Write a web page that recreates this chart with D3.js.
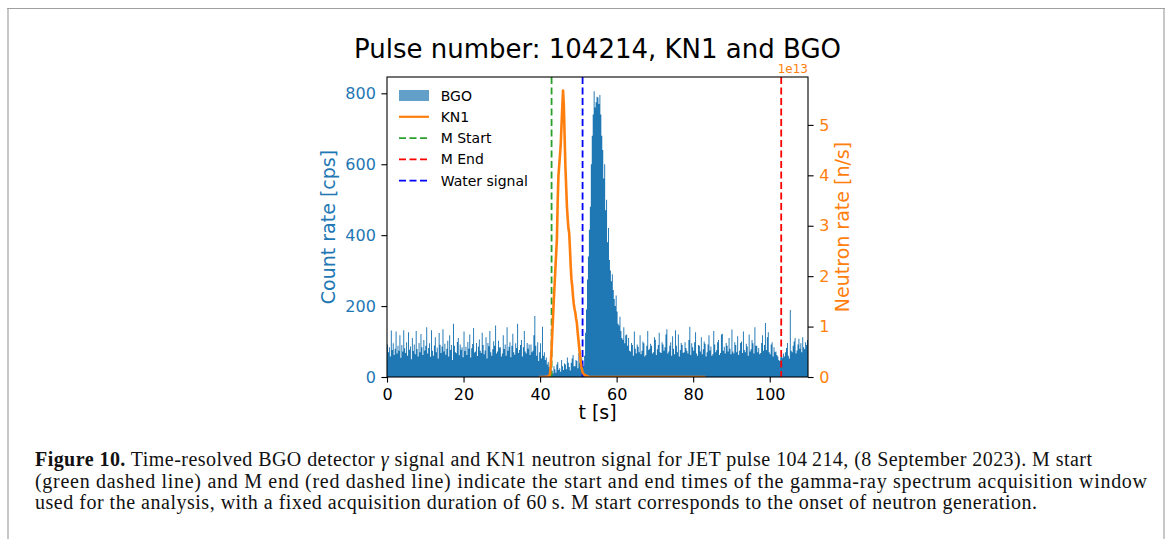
<!DOCTYPE html>
<html>
<head>
<meta charset="utf-8">
<script src="https://cdn.jsdelivr.net/npm/d3@7"></script>
<style>
body { margin: 0; background: #fff; }
svg { display: block; }
</style>
</head>
<body>
<script>
// BGO counts, 0.25 s bins from t = 0 s
let bgoBinWidth = 0.25;
let bgoCounts = [
  // 0 - 40 s
  92, 70, 84, 58, 131, 76, 95, 62, 80, 128, 66, 88, 74, 118, 54, 90, 72, 132, 81, 68,
  98, 60, 126, 77, 86, 50, 110, 73, 92, 64, 130, 79, 58, 96, 70, 121, 84, 62, 104, 75,
  88, 140, 66, 82, 95, 57, 132, 74, 60, 89, 112, 70, 83, 52, 124, 91, 68, 86, 135, 72,
  94, 63, 80, 102, 58, 118, 76, 90, 48, 150, 88, 70, 67, 99, 110, 61, 92, 77, 84, 56,
  128, 73, 85, 62, 99, 80, 120, 55, 81, 93, 138, 69, 72, 96, 59, 86, 106, 74, 68, 125,
  90, 64, 75, 112, 52, 96, 87, 130, 70, 60, 78, 101, 88, 145, 66, 72, 102, 83, 84, 58,
  66, 118, 79, 92, 60, 140, 74, 85, 98, 56, 88, 122, 70, 63, 95, 82, 150, 68, 76, 90,
  104, 58, 84, 130, 72, 66, 96, 80, 92, 62, 92, 70, 74, 118, 172, 88, 60, 98, 45, 70,
  // 40 - 43 s
  95, 52, 142, 60, 70, 48, 55, 35, 42, 28, 22, 30,
  // 43 - 51 s
  18, 10, 30, 22, 12, 35, 42, 20, 25, 15, 48, 30, 20, 38, 35, 22,
  55, 40, 28, 18, 40, 52, 62, 30, 30, 48, 45, 25, 68, 40, 38, 55,
  // 51 - 63 s
  40, 30, 60, 125, 190, 275, 340, 415, 480, 600, 680, 740, 806, 760, 775, 790,
  788, 770, 795, 740, 680, 640, 560, 600, 470, 500, 380, 420, 330, 300, 270, 290,
  245, 220, 200, 230, 185, 150, 145, 170, 130, 110, 105, 140, 95, 118, 120, 88,
  // 63 - 110 s
  110, 74, 72, 96, 90, 60, 128, 80, 66, 92, 85, 70, 118, 64, 74, 100, 95, 58, 62, 88,
  130, 76, 80, 94, 88, 66, 70, 112, 105, 62, 78, 90, 125, 70, 68, 98, 92, 74, 84, 120,
  135, 66, 72, 88, 98, 60, 115, 80, 64, 132, 88, 70, 120, 58, 76, 96, 90, 68, 70, 98,
  82, 74, 66, 104, 142, 62, 95, 84, 74, 98, 126, 66, 60, 90, 88, 72, 112, 64, 78, 100,
  94, 58, 70, 92, 118, 75, 86, 60, 64, 130, 92, 70, 76, 98, 104, 62, 68, 120, 122, 74,
  85, 66, 96, 88, 72, 110, 80, 64, 134, 72, 66, 98, 90, 70, 115, 62, 74, 96, 100, 68,
  128, 76, 70, 94, 86, 60, 120, 72, 78, 104, 95, 66, 140, 88, 88, 70, 82, 64, 68, 96,
  118, 74, 90, 152, 76, 112, 126, 70, 64, 92, 98, 58, 84, 70, 72, 62, 58, 48, 45, 56,
  62, 54, 66, 58, 70, 82, 96, 60, 52, 189, 74, 70, 88, 100, 110, 66, 75, 92, 108, 80,
  95, 70, 112, 84, 78, 98, 90, 104
];

// KN1 neutron rate, units of 1e13 n/s
let kn1Time = [39.7, 41.0, 42.0, 42.4, 42.6, 42.8, 43.0, 43.2, 43.4, 43.6, 43.8, 44.0, 44.2, 44.4, 44.6, 44.8,
  45.0, 45.2, 45.4, 45.6, 45.8, 46.0, 46.2, 46.4, 46.6, 46.8, 47.0, 47.2, 47.4, 47.6, 47.8,
  48.0, 48.2, 48.4, 48.6, 48.8, 49.0, 49.2, 49.4, 49.6, 49.8, 50.0, 50.2, 50.4, 50.6, 50.8,
  51.0, 51.2, 51.6, 52.2, 52.8, 60.0, 70.0, 83.2];
let kn1Rate = [0, 0, 0.01, 0.02, 0.07, 0.25, 0.55, 0.9, 1.22, 1.55, 1.85, 2.15, 2.45, 2.75, 3.5, 4.0,
  4.2, 4.4, 4.62, 5.0, 5.35, 5.68, 5.4, 4.8, 4.2, 3.8, 3.4, 3.15, 2.95, 2.86, 2.55,
  2.2, 1.93, 1.8, 1.6, 1.45, 1.35, 1.28, 1.16, 1.08, 0.9, 0.75, 0.6, 0.45, 0.3, 0.2,
  0.12, 0.08, 0.04, 0.02, 0, 0, 0, 0];

let markerNames = ["M Start", "M End", "Water signal"];
let markerTimes = [43.0, 103.0, 51.1];
let markerColors = ["#2ca02c", "#ff0000", "#0000ff"];

let xTicks = [0, 20, 40, 60, 80, 100];
let yLeftTicks = [0, 200, 400, 600, 800];
let yRightTicks = [0, 1, 2, 3, 4, 5];

let captionLines = [
  [["Figure 10.", "bold", ""], [" Time-resolved BGO detector ", "", ""], ["γ", "", "italic"], [" signal and KN1 neutron signal for JET pulse 104\u2009214, (8 September 2023). M start", "", ""]],
  [["(green dashed line) and M end (red dashed line) indicate the start and end times of the gamma-ray spectrum acquisition window", "", ""]],
  [["used for the analysis, with a fixed acquisition duration of 60\u2009s. M start corresponds to the onset of neutron generation.", "", ""]]
];
let captionWidths = [1057, 1112, 1002];

let W = 1168, H = 539;
let pL = 387, pR = 808, pT = 77, pB = 377;
let blue = "#1f77b4", orange = "#ff7f0e";
let sans = "DejaVu Sans, sans-serif";

let svg = d3.select("body").append("svg").attr("width", W).attr("height", H);

// page frame
svg.append("line").attr("x1", 7).attr("x2", 1165).attr("y1", 8.5).attr("y2", 8.5).attr("stroke", "#a0a0a0");
svg.append("line").attr("x1", 8).attr("x2", 8).attr("y1", 9).attr("y2", H).attr("stroke", "#c8c8c8").attr("stroke-width", 2);
svg.append("line").attr("x1", 1164).attr("x2", 1164).attr("y1", 9).attr("y2", H).attr("stroke", "#c8c8c8").attr("stroke-width", 2);

let x = d3.scaleLinear().domain([0, 110]).range([pL, pR]);
let yL = d3.scaleLinear().domain([0, 846]).range([pB, pT]);
let yR = d3.scaleLinear().domain([0, 5.95]).range([pB, pT]);

svg.append("clipPath").attr("id", "plot").append("rect")
  .attr("x", pL).attr("y", pT).attr("width", pR - pL).attr("height", pB - pT);

let g = svg.append("g").attr("clip-path", "url(#plot)");

let bgoPts = bgoCounts.map((v, i) => [i * bgoBinWidth, v]);
bgoPts.push([bgoCounts.length * bgoBinWidth, bgoCounts[bgoCounts.length - 1]]);

g.append("path")
  .datum(bgoPts)
  .attr("fill", blue)
  .attr("d", d3.area().curve(d3.curveStepAfter).x(d => x(d[0])).y0(yL(0)).y1(d => yL(d[1])));

markerTimes.forEach((t, i) => {
  g.append("line")
    .attr("x1", x(t)).attr("x2", x(t)).attr("y1", pT).attr("y2", pB)
    .attr("stroke", markerColors[i]).attr("stroke-width", 1.8).attr("stroke-dasharray", "7 3.5");
});

g.append("path")
  .datum(kn1Time.map((t, i) => [t, kn1Rate[i]]))
  .attr("fill", "none").attr("stroke", orange).attr("stroke-width", 2.6).attr("stroke-linejoin", "round")
  .attr("d", d3.line().x(d => x(d[0])).y(d => yR(d[1])));

// spines
svg.append("rect").attr("x", pL).attr("y", pT).attr("width", pR - pL).attr("height", pB - pT)
  .attr("fill", "none").attr("stroke", "#000").attr("stroke-width", 1.1);

function styleAxis(sel, color) {
  sel.select(".domain").remove();
  sel.selectAll(".tick line").attr("stroke", "#000").attr("stroke-width", 1.1);
  sel.selectAll(".tick text").attr("fill", color).style("font-family", sans).style("font-size", "16px");
}

svg.append("g").attr("transform", "translate(0," + pB + ")")
  .call(d3.axisBottom(x).tickValues(xTicks).tickSize(5.6).tickPadding(5.6))
  .call(s => styleAxis(s, "#000"));

svg.append("g").attr("transform", "translate(" + pL + ",0)")
  .call(d3.axisLeft(yL).tickValues(yLeftTicks).tickSize(5.6).tickPadding(5.6))
  .call(s => styleAxis(s, blue));

svg.append("g").attr("transform", "translate(" + pR + ",0)")
  .call(d3.axisRight(yR).tickValues(yRightTicks).tickFormat(d3.format("d")).tickSize(5.6).tickPadding(5.6))
  .call(s => styleAxis(s, orange));

// titles and labels
svg.append("text").attr("x", (pL + pR) / 2).attr("y", 57.5).attr("text-anchor", "middle")
  .style("font-family", sans).style("font-size", "26px").text("Pulse number: 104214, KN1 and BGO");

svg.append("text").attr("x", (pL + pR) / 2).attr("y", 419).attr("text-anchor", "middle")
  .style("font-family", sans).style("font-size", "19px").text("t [s]");

svg.append("text").attr("transform", "translate(335," + (pT + pB) / 2 + ") rotate(-90)")
  .attr("text-anchor", "middle").attr("fill", blue)
  .style("font-family", sans).style("font-size", "19px").text("Count rate [cps]");

svg.append("text").attr("transform", "translate(849," + (pT + pB) / 2 + ") rotate(-90)")
  .attr("text-anchor", "middle").attr("fill", orange)
  .style("font-family", sans).style("font-size", "19px").text("Neutron rate [n/s]");

svg.append("text").attr("x", pR).attr("y", 73.3).attr("text-anchor", "end").attr("fill", orange)
  .style("font-family", sans).style("font-size", "12px").text("1e13");

// legend
let legendNames = ["BGO", "KN1"].concat(markerNames);
let legendColors = [blue, orange].concat(markerColors);
let lg = svg.append("g");
legendNames.forEach((name, i) => {
  let cy = 95.5 + i * 21.3;
  if (i === 0) {
    lg.append("rect").attr("x", 399).attr("y", cy - 5.5).attr("width", 30).attr("height", 11)
      .attr("fill", blue).attr("fill-opacity", 0.7);
  } else {
    lg.append("line").attr("x1", 399).attr("x2", 429).attr("y1", cy).attr("y2", cy)
      .attr("stroke", legendColors[i]).attr("stroke-width", i === 1 ? 2.2 : 1.8)
      .attr("stroke-dasharray", i === 1 ? null : "7 3.5");
  }
  lg.append("text").attr("x", 440.7).attr("y", cy).attr("dy", "0.36em")
    .style("font-family", sans).style("font-size", "14px").text(name);
});

// caption
let capY = [466, 487.5, 509];
captionLines.forEach((parts, i) => {
  let t = svg.append("text").attr("x", 35).attr("y", capY[i])
    .style("font-family", "Liberation Serif, serif").style("font-size", "20px").attr("fill", "#111");
  parts.forEach(p => {
    t.append("tspan").attr("font-weight", p[1] || null).attr("font-style", p[2] || null).text(p[0]);
  });
  t.attr("textLength", captionWidths[i]).attr("lengthAdjust", "spacing");
});
</script>
</body>
</html>
